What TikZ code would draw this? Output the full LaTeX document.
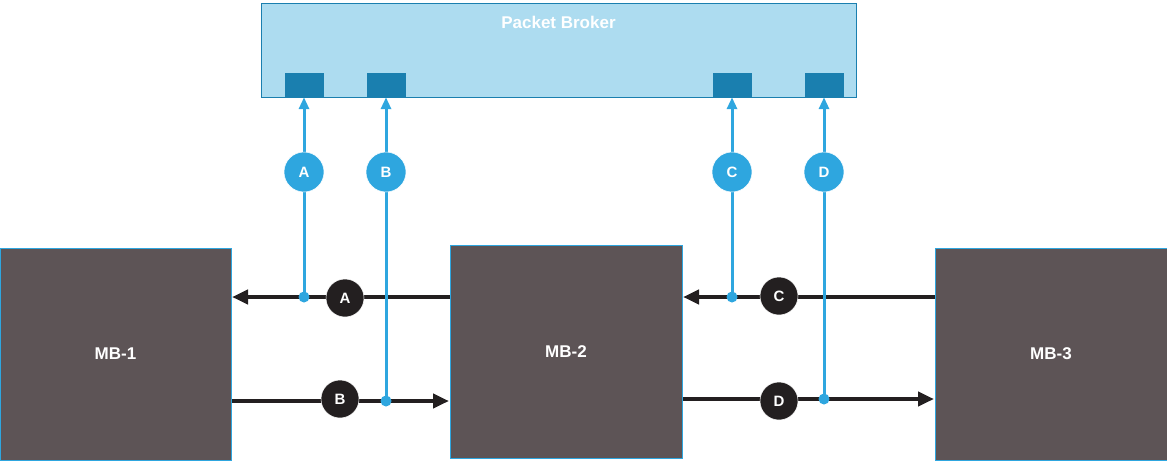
\documentclass[tikz,border=0pt]{standalone}
\usepackage{fontspec}
\setmainfont{Liberation Sans}
\usetikzlibrary{arrows.meta}
\definecolor{pb}{HTML}{ADDCF0}
\definecolor{port}{HTML}{1A7FAF}
\definecolor{bl}{HTML}{2EA6DF}
\definecolor{mb}{HTML}{5D5456}
\definecolor{dk}{HTML}{231F20}
\begin{document}
\begin{tikzpicture}[x=1pt,y=-1pt,
 box/.style={draw=bl,fill=mb,line width=0.8pt},
 port/.style={fill=port,minimum width=39pt,minimum height=24pt,inner sep=0},
 bc/.style={circle,fill=bl,draw=white,line width=0.5pt,minimum size=40pt,inner sep=0,text=white,font=\bfseries\fontsize{15}{15}\selectfont},
 kc/.style={circle,fill=dk,draw=white,line width=0.5pt,minimum size=38pt,inner sep=0,text=white,font=\bfseries\fontsize{15}{15}\selectfont},
 flow/.style={draw=dk,line width=4pt,-{Triangle[length=16pt,width=14pt]}},
 tap/.style={draw=bl,line width=3pt,-{Triangle[length=12pt,width=10pt]}},
 lbl/.style={text=white,font=\bfseries\fontsize{17}{17}\selectfont}]
\useasboundingbox (0,0) rectangle (1167,474);
\node[draw=port,fill=pb,line width=0.8pt,minimum width=595pt,minimum height=94pt,inner sep=0] (pb) at (558.5,50) {};
\node[lbl] (pbt) at (558.5,22) {Packet Broker};
\node[port] (pA) at (304,85) {};
\node[port] (pB) at (386,85) {};
\node[port] (pC) at (732,85) {};
\node[port] (pD) at (824,85) {};
\node[box,minimum width=231pt,minimum height=212pt,inner sep=0] (mb1) at (115.5,354) {};
\node[lbl] at (mb1) {MB-1};
\node[box,minimum width=232pt,minimum height=213pt,inner sep=0] (mb2) at (566,351.5) {};
\node[lbl] at (mb2) {MB-2};
\node[box,minimum width=232pt,minimum height=212pt,inner sep=0] (mb3) at (1051,354) {};
\node[lbl] at (mb3) {MB-3};
\coordinate (aS) at (450,297); \coordinate (aE) at (232,297);
\coordinate (bS) at (232,401); \coordinate (bE) at (449,401);
\coordinate (cS) at (935,297); \coordinate (cE) at (683,297);
\coordinate (dS) at (683,399); \coordinate (dE) at (934,399);
\draw[flow] (aS) -- (aE);
\draw[flow] (bS) -- (bE);
\draw[flow] (cS) -- (cE);
\draw[flow] (dS) -- (dE);
\coordinate (tA) at (304,297); \coordinate (tB) at (386,401);
\coordinate (tC) at (732,297); \coordinate (tD) at (824,399);
\draw[tap] (tA) -- (pA.south);
\draw[tap] (tB) -- (pB.south);
\draw[tap] (tC) -- (pC.south);
\draw[tap] (tD) -- (pD.south);
\foreach \p in {tA,tB,tC,tD} \fill[bl] (\p) circle (5.5pt);
\node[bc] (cA) at (304,172) {A};
\node[bc] (cB) at (386,172) {B};
\node[bc] (cC) at (732,172) {C};
\node[bc] (cD) at (824,172) {D};
\node[kc] (kA) at (345,298) {A};
\node[kc] (kB) at (340,399) {B};
\node[kc] (kC) at (779,296) {C};
\node[kc] (kD) at (779,401) {D};
\end{tikzpicture}
\end{document}
